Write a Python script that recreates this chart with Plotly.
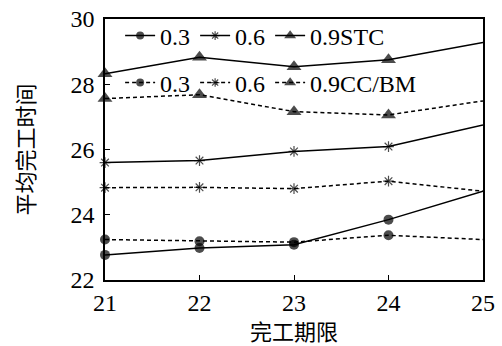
import plotly.graph_objects as go

x_deadline = [21, 22, 23, 24, 25]
stc_03 = [22.77, 22.98, 23.08, 23.85, 24.72]
stc_06 = [25.60, 25.66, 25.94, 26.09, 26.75]
stc_09 = [28.32, 28.83, 28.54, 28.75, 29.28]
cc_03 = [23.24, 23.19, 23.16, 23.37, 23.24]
cc_06 = [24.83, 24.84, 24.80, 25.03, 24.72]
cc_09 = [27.56, 27.68, 27.16, 27.06, 27.49]

yticks = [22, 24, 26, 28, 30]
xticks = [21, 22, 23, 24, 25]

SERIF = "Liberation Serif"
CJK = "Noto Sans CJK SC"

fig = go.Figure()

def add(y, name, symbol, size, dash, legend):
    sizes = [size] * (len(y) - 1) + [0]
    if symbol == "asterisk-open":
        marker = dict(symbol=symbol, size=sizes, color="black",
                      line=dict(color="black", width=1.2))
    else:
        marker = dict(symbol=symbol, size=sizes, color="black", line=dict(width=0))
    fig.add_trace(go.Scatter(
        x=x_deadline, y=y, name=name, mode="lines+markers",
        line=dict(color="black", width=1.5, dash=dash),
        marker=marker, cliponaxis=False, legend=legend,
    ))

add(stc_03, "0.3", "circle", 10, "solid", "legend")
add(stc_06, "0.6", "asterisk-open", 9, "solid", "legend")
add(stc_09, "0.9STC", "triangle-up", 13, "solid", "legend")
add(cc_03, "0.3", "circle", 10, "4px,3px", "legend2")
add(cc_06, "0.6", "asterisk-open", 9, "4px,3px", "legend2")
add(cc_09, "0.9CC/BM", "triangle-up", 13, "4px,3px", "legend2")

legend_common = dict(orientation="h", bgcolor="rgba(0,0,0,0)",
                     font=dict(family=SERIF, size=24, color="black"),
                     itemwidth=30, tracegroupgap=0, xanchor="left", yanchor="middle",
                     itemsizing="trace")

fig.update_layout(
    width=502, height=346,
    margin=dict(l=105, r=19, t=19, b=66),
    paper_bgcolor="white", plot_bgcolor="white",
    showlegend=True,
    legend=dict(x=0.04, y=0.935, **legend_common),
    legend2=dict(x=0.04, y=0.755, **legend_common),
    font=dict(family=SERIF, color="black"),
)
fig.update_xaxes(
    range=[21, 25], tickvals=xticks, ticktext=[str(v) for v in xticks],
    ticks="inside", ticklen=5, tickwidth=1.2, tickcolor="black",
    showline=True, linecolor="black", linewidth=1.5, mirror=True,
    showgrid=False, zeroline=False, automargin=False,
    tickfont=dict(family=SERIF, size=24, color="black"),
    title=dict(text="完工期限", font=dict(family=CJK, size=22, color="black"), standoff=4),
)
fig.update_yaxes(
    range=[22, 30], tickvals=yticks, ticktext=[str(v) for v in yticks],
    ticks="inside", ticklen=5, tickwidth=1.2, tickcolor="black",
    showline=True, linecolor="black", linewidth=1.5, mirror=True,
    showgrid=False, zeroline=False, automargin=False, ticklabelstandoff=4,
    tickfont=dict(family=SERIF, size=24, color="black"),
    title=dict(text="平均完工时间", font=dict(family=CJK, size=22, color="black"), standoff=30),
)

fig.write_html("out.html", config={"displayModeBar": False},
               post_script="document.body.style.margin='0';document.body.style.padding='0';")
